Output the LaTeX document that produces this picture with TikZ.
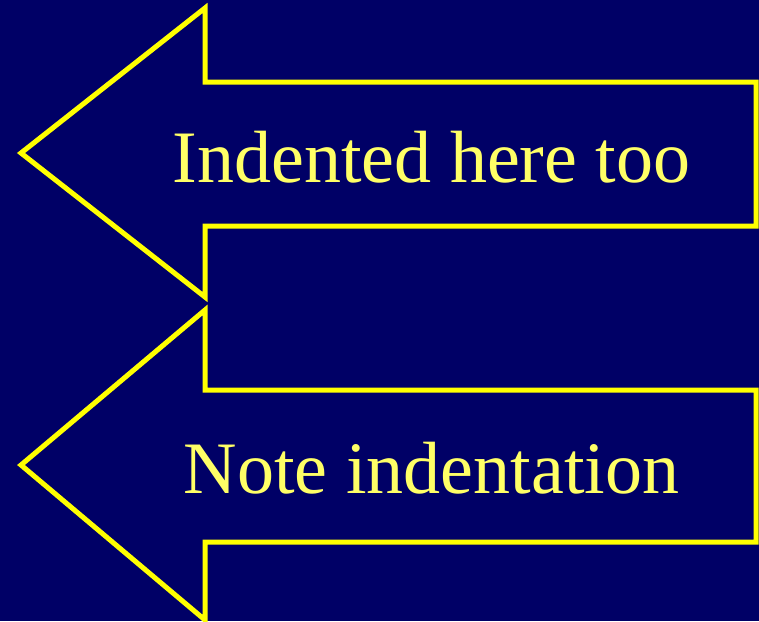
\documentclass[tikz,border=0pt]{standalone}
\usepackage{fontspec}
\setmainfont{Liberation Serif}
\definecolor{navy}{RGB}{0,0,102}
\definecolor{edgeyellow}{RGB}{255,255,0}
\definecolor{textyellow}{RGB}{255,255,102}
\tikzset{
  arrowshape/.style={draw=edgeyellow, fill=navy, line width=5pt, line join=miter},
  label/.style={text=textyellow, anchor=base, inner sep=0pt,
    font=\fontsize{74}{80}\selectfont}
}
\begin{document}
\begin{tikzpicture}[x=1pt,y=-1pt]
  \fill[navy] (0,0) rectangle (759,621);
  \useasboundingbox (0,0) rectangle (759,621);
  % upper arrow
  \draw[arrowshape] (756,82) -- (205,82) -- (205,8) -- (21,153)
    -- (205,297) -- (205,226) -- (756,226) -- cycle;
  % lower arrow
  \draw[arrowshape] (756,390) -- (205,390) -- (205,310) -- (21,465)
    -- (205,620) -- (205,542) -- (756,542) -- cycle;
  \node[label] (top) at (431.5,182) {Indented here too};
  \node[label] (bottom) at (431.5,493) {Note indentation};
\end{tikzpicture}
\end{document}
